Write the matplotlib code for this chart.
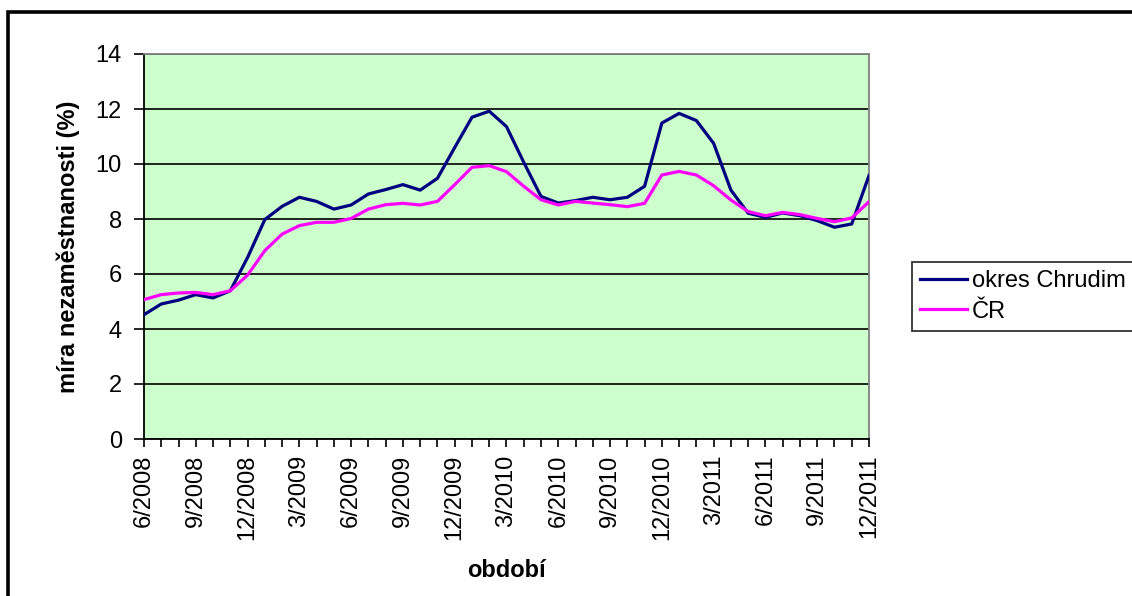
import matplotlib
matplotlib.use("Agg")
import matplotlib.pyplot as plt
from matplotlib.patches import Rectangle

plt.rcParams['font.family'] = ['Liberation Sans', 'DejaVu Sans']

# monthly periods 6/2008 .. 12/2011
periods = []
for year in range(2008, 2012):
    for month in range(1, 13):
        if (year, month) >= (2008, 6):
            periods.append(f"{month}/{year}")

chrudim = [4.52, 4.91, 5.05, 5.25, 5.13, 5.39, 6.60, 7.98, 8.46, 8.79,
           8.64, 8.36, 8.51, 8.91, 9.07, 9.25, 9.05, 9.48, 10.60, 11.70,
           11.92, 11.36, 10.06, 8.82, 8.58, 8.67, 8.79, 8.70, 8.79, 9.19,
           11.49, 11.84, 11.58, 10.75, 9.05, 8.21, 8.06, 8.22, 8.12, 7.94,
           7.70, 7.82, 9.58]
cr = [5.07, 5.25, 5.31, 5.33, 5.25, 5.39, 5.96, 6.85, 7.45, 7.76,
      7.88, 7.88, 8.02, 8.36, 8.52, 8.57, 8.51, 8.64, 9.25, 9.88,
      9.94, 9.72, 9.19, 8.70, 8.51, 8.64, 8.58, 8.52, 8.45, 8.57,
      9.60, 9.73, 9.60, 9.21, 8.69, 8.27, 8.12, 8.24, 8.16, 8.02,
      7.90, 8.04, 8.63]

series_names = ['okres Chrudim', 'ČR']
y_ticks = [0, 2, 4, 6, 8, 10, 12, 14]

W, H = 1132, 596
fig = plt.figure(figsize=(W / 100, H / 100), dpi=100)
ax = fig.add_axes([144 / W, (H - 439) / H, 725 / W, 385 / H])
ax.set_facecolor('#CCFFCC')

x = list(range(len(periods)))
ax.plot(x, chrudim, color='#000080', linewidth=2.3, label=series_names[0], zorder=3)
ax.plot(x, cr, color='#FF00FF', linewidth=2.3, label=series_names[1], zorder=3)

ax.set_xlim(0, len(periods) - 1)
ax.set_ylim(0, 14)
ax.set_yticks(y_ticks)
ax.yaxis.grid(True, color='black', linewidth=1.2)
ax.set_axisbelow(True)

ax.set_xticks(x)
ax.set_xticklabels([p if i % 3 == 0 else '' for i, p in enumerate(periods)],
                   rotation=90, fontsize=17)
ax.tick_params(axis='x', length=6, width=1.2, color='black', pad=5)
ax.tick_params(axis='y', length=7, width=1.2, color='black', pad=9, labelsize=17)

ax.spines['left'].set_color('black')
ax.spines['bottom'].set_color('black')
ax.spines['top'].set_color('#808080')
ax.spines['right'].set_color('#808080')
for s in ax.spines.values():
    s.set_linewidth(1.3)

ax.set_ylabel('míra nezaměstnanosti (%)', fontsize=17, fontweight='bold', labelpad=11)
ax.set_xlabel('období', fontsize=17, fontweight='bold', labelpad=14)

leg = ax.legend(loc='upper left', bbox_to_anchor=(912 / W, (H - 262) / H),
                bbox_transform=fig.transFigure, fontsize=17, frameon=True,
                fancybox=False, edgecolor='black', handlelength=2.0,
                handletextpad=0.2, borderpad=0.35, labelspacing=0.35,
                borderaxespad=0)
leg.get_frame().set_linewidth(1.3)

# outer chart frame (cut at right and bottom edges)
fig.patches.append(Rectangle((8 / W, -0.1), 1.1, (H - 12) / H + 0.1,
                             transform=fig.transFigure, fill=False,
                             edgecolor='black', linewidth=2.6))

fig.savefig('out.png', dpi=100)
